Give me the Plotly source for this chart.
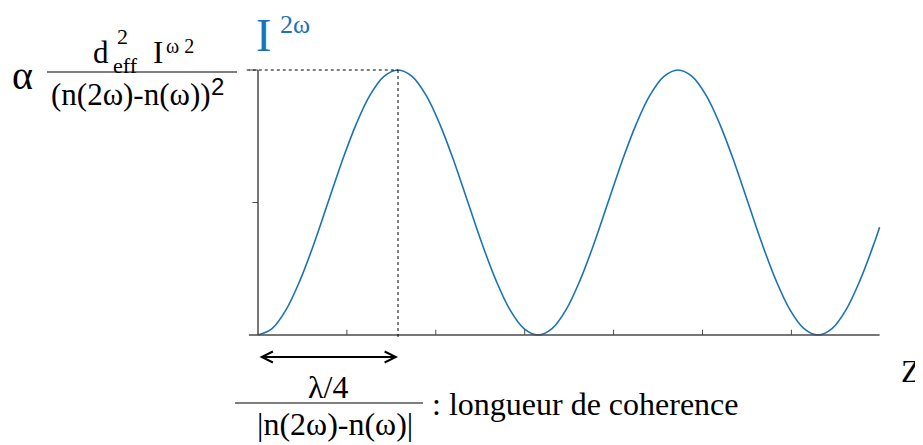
import plotly.graph_objects as go

# z in units of the coherence length, intensity normalised to the peak
z = [0.0, 0.1, 0.2, 0.3, 0.4, 0.5, 0.6, 0.7, 0.8, 0.9,
     1.0, 1.1, 1.2, 1.3, 1.4, 1.5, 1.6, 1.7, 1.8, 1.9,
     2.0, 2.1, 2.2, 2.3, 2.4, 2.5, 2.6, 2.7, 2.8, 2.9,
     3.0, 3.1, 3.2, 3.3, 3.4, 3.5, 3.6, 3.7, 3.8, 3.9,
     4.0, 4.1, 4.2, 4.3, 4.4, 4.44]
i2w = [0.0, 0.024, 0.095, 0.206, 0.345, 0.5, 0.655, 0.794, 0.905, 0.976,
       1.0, 0.976, 0.905, 0.794, 0.655, 0.5, 0.345, 0.206, 0.095, 0.024,
       0.0, 0.024, 0.095, 0.206, 0.345, 0.5, 0.655, 0.794, 0.905, 0.976,
       1.0, 0.976, 0.905, 0.794, 0.655, 0.5, 0.345, 0.206, 0.095, 0.024,
       0.0, 0.024, 0.095, 0.206, 0.345, 0.407]
x_ticks = [0.635, 1.27, 1.905, 2.54, 3.175, 3.81]
y_ticks = [0.5, 1.0]
z_end = 4.44
peak_z = 1.0

blue = "#1a73b8"
axis_col = "#4a4a4a"
serif = "Liberation Serif, Times New Roman, serif"
sans = "Liberation Sans, Arial, sans-serif"

W, H = 923, 445
OFF = 8  # page body margin

fig = go.Figure()
fig.add_trace(go.Scatter(x=z, y=i2w, mode="lines", line=dict(color=blue, width=1.6, shape="spline"),
                         hoverinfo="skip", showlegend=False))

# axes
fig.add_shape(type="line", x0=0, x1=0, y0=0, y1=1, line=dict(color=axis_col, width=1.5))
fig.add_shape(type="line", x0=-0.065, x1=z_end, y0=0, y1=0, line=dict(color=axis_col, width=1.5))
for t in x_ticks:
    fig.add_shape(type="line", x0=t, x1=t, y0=0, y1=0.02, line=dict(color=axis_col, width=1))
for t in y_ticks:
    fig.add_shape(type="line", x0=-0.04 if t < 1 else -0.065, x1=0, y0=t, y1=t, line=dict(color=axis_col, width=1))

# dashed guides to the first maximum
fig.add_shape(type="line", x0=-0.08, x1=peak_z, y0=1, y1=1, line=dict(color="black", width=1, dash="3px,3px"))
fig.add_shape(type="line", x0=peak_z, x1=peak_z, y0=1, y1=-0.012, line=dict(color="black", width=1, dash="3px,3px"))

# double arrow for coherence length
fig.add_annotation(x=peak_z, y=-0.083, ax=0, ay=-0.083, xref="x", yref="y", axref="x", ayref="y",
                   text="", showarrow=True, arrowhead=5, arrowside="end+start", arrowsize=1.2,
                   arrowwidth=1.8, arrowcolor="black")


def px(x):
    return (x - OFF) / W


def py(y):
    return 1 - (y - OFF) / H


def txt(x, y, s, size, color="black", family=serif, xanchor="center", yanchor="middle"):
    fig.add_annotation(x=px(x), y=py(y), xref="paper", yref="paper", text=s, showarrow=False,
                       font=dict(family=family, size=size, color=color), xanchor=xanchor, yanchor=yanchor)


def hbar(x0, x1, y):
    fig.add_shape(type="line", xref="paper", yref="paper", x0=px(x0), x1=px(x1), y0=py(y), y1=py(y),
                  line=dict(color="black", width=1.2))


# title I^2w (anything above page y=8 would be clipped)
txt(254, 8, "I", 46, blue, xanchor="left", yanchor="top")
txt(278, 8, "2ω", 26, blue, xanchor="left", yanchor="top")

# left label
txt(22, 76, "α", 40)
txt(101, 52, "d", 31)
txt(111, 65, "eff", 22, xanchor="left")
txt(115, 37, "2", 22, xanchor="left")
txt(158, 52, "I", 31)
txt(164, 46, "ω 2", 20, xanchor="left")
hbar(47, 237, 72)
txt(131, 94, "(n(2ω)-n(ω))", 31)
txt(209, 86, "2", 24, family=sans, xanchor="left")

# bottom label
txt(328, 387, "λ/4", 32)
hbar(235, 423, 403)
txt(335, 424, "|n(2ω)-n(ω)|", 32)
txt(430, 404, ": longueur de coherence", 32, xanchor="left")
txt(911, 371, "Z", 32)

fig.update_layout(
    width=W, height=H, margin=dict(l=0, r=0, t=0, b=0),
    plot_bgcolor="white", paper_bgcolor="white",
    xaxis=dict(range=[(OFF - 258) / 140, (W + OFF - 258) / 140], visible=False, fixedrange=True),
    yaxis=dict(range=[(335 - H - OFF) / 265, (335 - OFF) / 265], visible=False, fixedrange=True),
)
fig.write_html("out.html")
